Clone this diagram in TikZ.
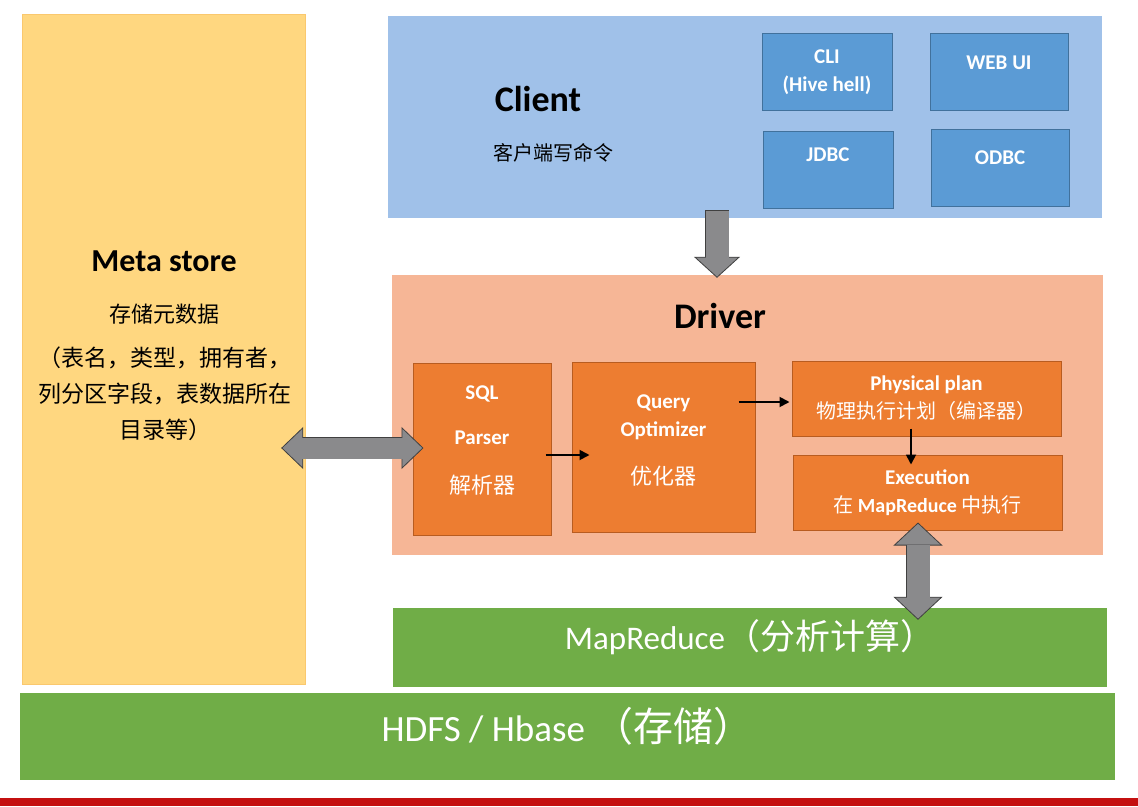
\documentclass[tikz,border=0pt]{standalone}
\usepackage{fontspec}
\setmainfont{Carlito}
\newfontfamily\cjk{Noto Sans CJK SC}
\usepackage{tikz}
\usetikzlibrary{arrows.meta,calc}
\newcommand{\zh}[1]{{\cjk #1}}
\definecolor{metafill}{RGB}{255,215,128}
\definecolor{metaedge}{RGB}{250,200,110}
\definecolor{clientfill}{RGB}{160,193,233}
\definecolor{toolfill}{RGB}{91,155,213}
\definecolor{tooledge}{RGB}{65,113,156}
\definecolor{driverfill}{RGB}{246,182,150}
\definecolor{stagefill}{RGB}{237,125,49}
\definecolor{stageedge}{RGB}{184,92,32}
\definecolor{layerfill}{RGB}{112,173,71}
\definecolor{arrowgray}{RGB}{138,138,140}
\definecolor{arrowedge}{RGB}{64,64,64}
\definecolor{barred}{RGB}{196,16,16}

\tikzset{
  panel/.style={rectangle, inner sep=0pt},
  toolbox/.style={panel, fill=toolfill, draw=tooledge, line width=1pt, minimum height=77pt,
    text=white, align=center, font=\fontsize{21}{28}\selectfont\bfseries},
  stagebox/.style={panel, fill=stagefill, draw=stageedge, line width=1pt,
    text=white, align=center, font=\fontsize{21}{28}\selectfont\bfseries},
  layerbar/.style={panel, fill=layerfill, text=white, font=\fontsize{33}{36}\selectfont},
  headline/.style={font=\fontsize{36}{40}\selectfont\bfseries},
  remark/.style={align=center, font=\fontsize{20}{36}\selectfont},
  flow/.style={draw=black, line width=1.8pt, -{Triangle[length=10pt,width=10pt]}},
  downblock/.style={draw=arrowedge, line width=24.6pt,
    -{Triangle[length=21pt,width=46pt,line width=0.8pt,fill=arrowgray]},
    postaction={draw=arrowgray, line width=23pt, arrows=-, shorten <=0.8pt, shorten >=20pt}},
  sideblock/.style={draw=arrowedge, line width=22.6pt,
    {Triangle[length=22pt,width=42pt,line width=0.8pt,fill=arrowgray]}-{Triangle[length=22pt,width=42pt,line width=0.8pt,fill=arrowgray]},
    postaction={draw=arrowgray, line width=21pt, arrows=-, shorten <=21pt, shorten >=21pt}},
  upblock/.style={draw=arrowedge, line width=24.6pt,
    {Triangle[length=23pt,width=49pt,line width=0.8pt,fill=arrowgray]}-{Triangle[length=23pt,width=49pt,line width=0.8pt,fill=arrowgray]},
    postaction={draw=arrowgray, line width=23pt, arrows=-, shorten <=22pt, shorten >=22pt}}
}

\begin{document}
\begin{tikzpicture}[x=1pt, y=-1pt]
	\useasboundingbox[fill=white] (0,0) rectangle (1138,806);
	% meta store
	\node[panel, fill=metafill, draw=metaedge, minimum width=283pt, minimum height=670pt] (meta) at (163.5,349) {};
	\node[headline, font=\fontsize{32}{36}\selectfont\bfseries] (metaname) at (164,261) {Meta store};
	\node[remark, font=\fontsize{22}{36}\selectfont] (metanote) at (164,314) {\zh{存储元数据}};
	\node[remark, font=\fontsize{23}{36}\selectfont] (metafields) at (165,394) {\zh{（表名，类型，拥有者，}\\\zh{列分区字段，表数据所在}\\\zh{目录等）}};
	% client
	\node[panel, fill=clientfill, minimum width=714pt, minimum height=202pt] (client) at (745,117) {};
	\node[headline] (clientname) at (538,99) {Client};
	\node[remark] (clientnote) at (553,153) {\zh{客户端写命令}};
	\node[toolbox, minimum width=130pt] (cli) at (827,72) {CLI\\(Hive hell)};
	\node[toolbox, minimum width=138pt, text depth=18pt] (webui) at (999,72) {WEB UI};
	\node[toolbox, minimum width=130pt, text depth=30pt] (jdbc) at (828,170) {JDBC};
	\node[toolbox, minimum width=138pt, text depth=20pt] (odbc) at (1000,168) {ODBC};
	% driver
	\node[panel, fill=driverfill, minimum width=711pt, minimum height=280pt] (driver) at (747.5,415) {};
	\node[headline] (drivername) at (720,316) {Driver};
	\node[stagebox, minimum width=138pt, minimum height=172pt, text depth=18pt] (parser) at (482,449) {SQL\\[17pt]Parser\\[21pt]{\fontsize{22}{28}\selectfont\mdseries\zh{解析器}}};
	\node[stagebox, minimum width=183pt, minimum height=170pt, text depth=15pt] (optimizer) at (663.5,447) {Query\\Optimizer\\[20pt]{\fontsize{22}{28}\selectfont\mdseries\zh{优化器}}};
	\node[stagebox, minimum width=269pt, minimum height=75pt] (physical) at (926.5,398.5) {Physical plan\\{\fontsize{20}{28}\selectfont\mdseries\zh{物理执行计划（编译器）}}};
	\node[stagebox, minimum width=269pt, minimum height=75pt] (execution) at (927.5,492.5) {Execution\\{\fontsize{20}{28}\selectfont\mdseries\zh{在} \bfseries MapReduce \mdseries\zh{中执行}}};
	% layers
	\node[layerbar, minimum width=714pt, minimum height=79pt, text depth=25pt, font=\fontsize{33}{36}\selectfont] (mapreduce) at (750,647.5) {MapReduce{\fontsize{35}{36}\selectfont\zh{（分析计算）}}};
	\node[layerbar, minimum width=1095pt, minimum height=87pt, text depth=24pt, font=\fontsize{37}{40}\selectfont] (hdfs) at (567.5,736.5) {HDFS / Hbase {\fontsize{40}{40}\selectfont\zh{（存储）}}};
	\fill[barred] (0,798) rectangle (1138,806);
	% arrows
	\draw[flow] ($(parser.east)+(-6,6)$) -- ($(parser.east -| optimizer.west)+(18,6)$);
	\draw[flow] ($(physical.west -| optimizer.east)+(-17,3.5)$) -- ($(physical.west)+(-2,3.5)$);
	\draw[flow] ($(physical.south)+(-15.5,-8)$) -- ($(physical.south |- execution.north)+(-15.5,10)$);
	\draw[downblock] ($(client.south)+(-28,-8)$) -- ($(client.south |- driver.north)+(-28,3)$);
	\draw[sideblock] ($(meta.east |- parser.west)+(-24,-1)$) -- ($(parser.west)+(11,-1)$);
	\draw[upblock] ($(execution.south)+(-9.5,-8)$) -- ($(execution.south |- mapreduce.north)+(-9.5,12)$);
\end{tikzpicture}
\end{document}
